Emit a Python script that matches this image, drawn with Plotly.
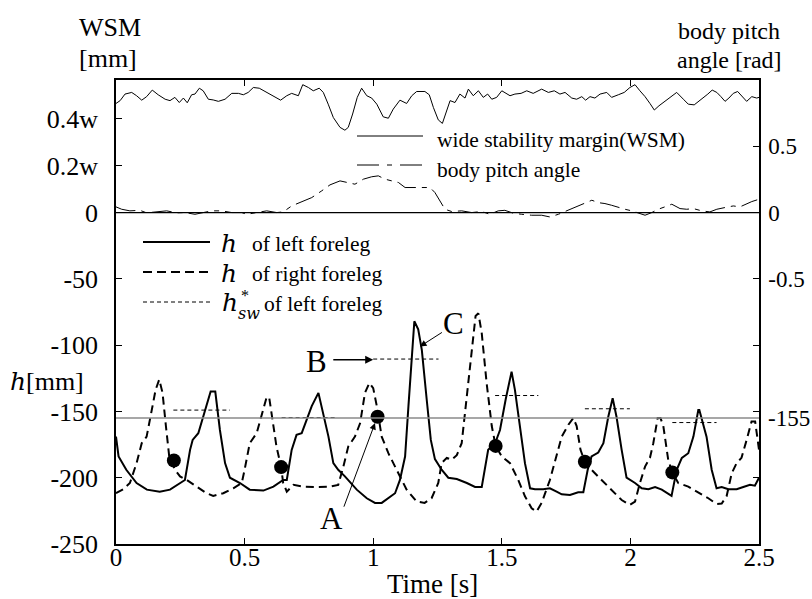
import plotly.graph_objects as go

# ---------------- data ----------------
left_t = [0, 0.01, 0.04, 0.08, 0.12, 0.17, 0.21, 0.25, 0.268, 0.288, 0.298, 0.32, 0.346, 0.368, 0.386,
          0.404, 0.424, 0.443, 0.482, 0.52, 0.573, 0.612, 0.65, 0.664, 0.683, 0.702, 0.722, 0.741, 0.761,
          0.787, 0.806, 0.826, 0.845, 0.864, 0.89, 0.936, 0.975, 1.007, 1.033, 1.059, 1.085, 1.104, 1.124,
          1.137, 1.15, 1.16, 1.175, 1.189, 1.208, 1.224, 1.24, 1.266, 1.292, 1.325, 1.364, 1.396, 1.422,
          1.447, 1.474, 1.493, 1.515, 1.538, 1.551, 1.571, 1.59, 1.61, 1.629, 1.661, 1.687, 1.713, 1.733,
          1.765, 1.797, 1.817, 1.834, 1.849, 1.875, 1.895, 1.914, 1.931, 1.946, 1.966, 1.985, 2.018, 2.044,
          2.07, 2.096, 2.122, 2.14, 2.16, 2.18, 2.2, 2.225, 2.245, 2.264, 2.268, 2.296, 2.316, 2.335, 2.355,
          2.381, 2.413, 2.439, 2.465, 2.484, 2.5]
left_h = [-169, -184, -194, -204, -209, -210.5, -209, -204, -201.7, -179, -171.5, -166.4, -148.8, -135, -135,
          -164, -189, -200, -204, -209, -209.7, -206.7, -201.7, -201.7, -179, -167.7, -166.4, -156, -146,
          -136, -151, -169, -189, -194, -199, -209, -215.5, -219, -219, -215.5, -211.7, -201.7, -184,
          -146, -108.5, -82, -88, -103.5, -141, -171.5, -186, -194, -200, -201, -204, -207, -207,
          -179, -174, -164, -141, -120, -133.7, -161, -189, -208, -208.7, -208.7, -208, -210.5, -212.5,
          -213, -211, -211, -194, -184, -181, -174, -154, -140, -154, -179, -200, -204, -208,
          -208.7, -207, -209, -211, -213.7, -194, -185, -181.5, -169, -149, -149, -169, -194, -208, -207,
          -208.7, -208.7, -207, -205.4, -206, -200]

right_t = [0, 0.028, 0.054, 0.08, 0.1, 0.119, 0.139, 0.154, 0.168, 0.181, 0.194, 0.207, 0.229, 0.249, 0.275,
           0.314, 0.352, 0.378, 0.417, 0.456, 0.489, 0.5, 0.52, 0.547, 0.566, 0.586, 0.596, 0.612, 0.624,
           0.642, 0.65, 0.664, 0.69, 0.728, 0.78, 0.832, 0.864, 0.884, 0.903, 0.929, 0.949, 0.968, 0.985,
           1.0, 1.014, 1.033, 1.059, 1.091, 1.13, 1.169, 1.2, 1.227, 1.253, 1.266, 1.286, 1.305, 1.325,
           1.344, 1.363, 1.383, 1.398, 1.409, 1.422, 1.441, 1.461, 1.476, 1.5, 1.532, 1.564, 1.59, 1.616,
           1.635, 1.655, 1.687, 1.713, 1.733, 1.759, 1.778, 1.791, 1.806, 1.823, 1.849, 1.888, 1.927,
           1.966, 1.998, 2.018, 2.037, 2.057, 2.076, 2.089, 2.106, 2.117, 2.128, 2.147, 2.163, 2.186,
           2.225, 2.264, 2.303, 2.335, 2.355, 2.374, 2.394, 2.413, 2.432, 2.452, 2.471, 2.485, 2.5]
right_h = [-211.7, -208.7, -204, -189, -174, -169, -149, -133.7, -126, -136, -161, -184, -194, -199, -201.7,
           -206.7, -211.7, -213.7, -211.7, -208, -204, -194, -174, -166.4, -154, -139, -140, -161, -176.5,
           -192, -204, -210.5, -205.4, -206.7, -207, -206.7, -205.4, -191.6, -176.5, -169, -159, -136, -128.6,
           -132.4, -146, -169, -181.5, -194, -209, -218, -219, -215.5, -204, -189, -185, -186.5, -183,
           -174, -141, -103.5, -78, -76, -91, -128.6, -161, -176, -184, -189, -201.7, -214, -223,
           -225.6, -219, -201.7, -184, -169, -160, -155, -161, -179, -188, -194, -201.7, -209,
           -216.8, -220.5, -218, -204, -191.6, -185, -174, -155, -155, -161, -186.5, -196, -204,
           -206.7, -211, -215.5, -219.8, -219.5, -214, -196.6, -189, -185, -171.5, -157.6, -157.6, -179]

# touchdown points
dot_t = [0.225, 0.642, 1.017, 1.476, 1.823, 2.163]
dot_h = [-187, -192, -154, -176, -188, -196]

# h*_sw of left foreleg: (start time, end time, value)
hsw_t0 = [0.223, 0.644, 1.0, 1.474, 1.823, 2.163]
hsw_t1 = [0.443, 0.851, 1.254, 1.642, 1.998, 2.335]
hsw_h = [-149, -154.6, -110.5, -138, -148, -158.4]

# wide stability margin (fraction of w)
wsm_t = [0, 0.016, 0.035, 0.061, 0.08, 0.1, 0.119, 0.141, 0.164, 0.191, 0.21, 0.229, 0.246, 0.262, 0.277,
         0.294, 0.307, 0.324, 0.339, 0.359, 0.378, 0.398, 0.424, 0.45, 0.476, 0.495, 0.514, 0.534, 0.557,
         0.579, 0.612, 0.64, 0.664, 0.683, 0.709, 0.726, 0.748, 0.767, 0.79, 0.806, 0.825, 0.845, 0.871,
         0.89, 0.903, 0.92, 0.938, 0.955, 0.975, 0.994, 1.014, 1.039, 1.059, 1.078, 1.104, 1.13, 1.15,
         1.169, 1.201, 1.218, 1.234, 1.253, 1.269, 1.286, 1.299, 1.318, 1.337, 1.357, 1.37, 1.389, 1.409,
         1.428, 1.445, 1.461, 1.48, 1.5, 1.512, 1.532, 1.551, 1.575, 1.597, 1.622, 1.655, 1.681, 1.704,
         1.726, 1.746, 1.772, 1.791, 1.811, 1.826, 1.843, 1.862, 1.882, 1.908, 1.927, 1.953, 1.976, 1.998,
         2.018, 2.037, 2.057, 2.076, 2.093, 2.111, 2.134, 2.161, 2.18, 2.206, 2.225, 2.248, 2.277, 2.301,
         2.318, 2.336, 2.352, 2.368, 2.383, 2.4, 2.417, 2.433, 2.452, 2.472, 2.491, 2.5]
wsm_w = [0.465, 0.477, 0.505, 0.512, 0.498, 0.479, 0.494, 0.522, 0.502, 0.483, 0.477, 0.491, 0.469, 0.488, 0.468,
         0.502, 0.505, 0.53, 0.519, 0.483, 0.48, 0.474, 0.483, 0.508, 0.508, 0.502, 0.512, 0.533, 0.53,
         0.516, 0.494, 0.479, 0.498, 0.508, 0.498, 0.545, 0.533, 0.519, 0.53, 0.512, 0.462, 0.405, 0.363,
         0.351, 0.363, 0.42, 0.491, 0.53, 0.498, 0.488, 0.462, 0.408, 0.402, 0.441, 0.479, 0.465, 0.498,
         0.516, 0.516, 0.502, 0.448, 0.395, 0.38, 0.434, 0.477, 0.469, 0.505, 0.488, 0.526, 0.498, 0.519,
         0.491, 0.505, 0.483, 0.491, 0.519, 0.512, 0.498, 0.505, 0.508, 0.519, 0.508, 0.526, 0.512, 0.519,
         0.505, 0.512, 0.488, 0.483, 0.494, 0.479, 0.494, 0.488, 0.505, 0.512, 0.491, 0.502, 0.512, 0.533,
         0.545, 0.519, 0.494, 0.465, 0.437, 0.455, 0.474, 0.498, 0.512, 0.483, 0.462, 0.459, 0.483, 0.505,
         0.522, 0.512, 0.494, 0.474, 0.488, 0.508, 0.516, 0.498, 0.474, 0.494, 0.488, 0.491]

# body pitch angle [rad]
pitch_t = [0, 0.022, 0.054, 0.093, 0.119, 0.158, 0.197, 0.236, 0.268, 0.307, 0.339, 0.372, 0.411, 0.45, 0.489,
           0.508, 0.547, 0.586, 0.625, 0.65, 0.683, 0.722, 0.761, 0.8, 0.832, 0.871, 0.903, 0.929, 0.962,
           0.994, 1.02, 1.046, 1.072, 1.098, 1.124, 1.156, 1.189, 1.221, 1.24, 1.26, 1.279, 1.305, 1.344,
           1.383, 1.422, 1.454, 1.486, 1.512, 1.545, 1.577, 1.616, 1.655, 1.687, 1.72, 1.752, 1.785, 1.823,
           1.85, 1.875, 1.901, 1.927, 1.953, 1.979, 2.005, 2.031, 2.057, 2.083, 2.108, 2.134, 2.161, 2.193,
           2.219, 2.245, 2.277, 2.309, 2.336, 2.368, 2.4, 2.426, 2.452, 2.472, 2.493]
pitch_rad = [0.043, 0.025, 0.013, 0.017, -0.002, 0.005, 0.013, -0.002, 0.0, -0.013, 0.0, 0.013, 0.013, 0.0, 0.0,
             -0.013, 0.0, 0.013, 0.0, 0.005, 0.05, 0.083, 0.113, 0.164, 0.209, 0.239, 0.227, 0.214, 0.252,
             0.27, 0.277, 0.252, 0.239, 0.227, 0.189, 0.189, 0.194, 0.189, 0.151, 0.083, 0.025, 0.008, 0.013,
             0.0, 0.008, -0.013, 0.013, 0.017, -0.005, -0.013, -0.02, -0.02, -0.033, -0.013, 0.013, 0.038, 0.075,
             0.093, 0.075, 0.068, 0.055, 0.038, 0.025, 0.013, -0.005, -0.02, 0.0, 0.025, 0.043, 0.063, 0.03,
             0.025, 0.03, 0.013, 0.005, 0.025, 0.038, 0.05, 0.043, 0.068, 0.083, 0.096]

x_ticks = [0, 0.5, 1, 1.5, 2, 2.5]
x_ticktext = ["0", "0.5", "1", "1.5", "2", "2.5"]
W_SCALE = 177.0   # axis units per w for WSM panel
h_ticks = [-250, -200, -150, -100, -50, 0]
wsm_ticks = [0.2, 0.4]
wsm_ticktext = ["0.2w", "0.4w"]
pitch_ticks = [-2.5, -2.0, -1.5, -1.0, -0.5, 0, 0.5]
pitch_ticktext = ["", "", "", "", "-0.5", "0", "0.5"]
h_ref = -155

FONT = "Liberation Serif"
IFONT = "DejaVu Serif"

# ---------------- figure ----------------
fig = go.Figure()

fig.add_trace(go.Scatter(x=wsm_t, y=[v * W_SCALE for v in wsm_w], mode="lines",
                         line=dict(color="black", width=1), name="wide stability margin(WSM)",
                         showlegend=False))
fig.add_trace(go.Scatter(x=pitch_t, y=pitch_rad, yaxis="y2", mode="lines",
                         line=dict(color="black", width=1, dash="20px,6px,5px,6px"),
                         name="body pitch angle", showlegend=False))

hx, hy = [], []
for a, b, v in zip(hsw_t0, hsw_t1, hsw_h):
    hx += [a, b, None]
    hy += [v, v, None]
fig.add_trace(go.Scatter(x=hx, y=hy, mode="lines", line=dict(color="black", width=1, dash="4px,3px"),
                         name="h*sw of left foreleg", showlegend=False))
fig.add_trace(go.Scatter(x=right_t, y=right_h, mode="lines",
                         line=dict(color="black", width=2, dash="8px,5px"),
                         name="h of right foreleg", showlegend=False))
fig.add_trace(go.Scatter(x=left_t, y=left_h, mode="lines", line=dict(color="black", width=2),
                         name="h of left foreleg", showlegend=False))
fig.add_trace(go.Scatter(x=dot_t, y=dot_h, mode="markers", marker=dict(color="black", size=14),
                         showlegend=False))

# plot area in pixels
L, R, T, B = 116, 759, 80, 544


def px(x):
    return (x - L) / (R - L)


def py(y):
    return (B - y) / (B - T)


shapes = [
    dict(type="line", xref="paper", yref="y", x0=0, x1=1, y0=0, y1=0, line=dict(color="black", width=1.2)),
    dict(type="line", xref="paper", yref="y", x0=0, x1=1, y0=h_ref, y1=h_ref, line=dict(color="#8a8a8a", width=1.6)),
    # upper legend samples
    dict(type="line", xref="paper", yref="paper", x0=px(357), x1=px(423), y0=py(136), y1=py(136),
         line=dict(color="black", width=1)),
    dict(type="line", xref="paper", yref="paper", x0=px(357), x1=px(423), y0=py(165), y1=py(165),
         line=dict(color="black", width=1, dash="22px,8px,5px,8px")),
    # lower legend samples
    dict(type="line", xref="paper", yref="paper", x0=px(143), x1=px(210), y0=py(242), y1=py(242),
         line=dict(color="black", width=2)),
    dict(type="line", xref="paper", yref="paper", x0=px(143), x1=px(210), y0=py(272), y1=py(272),
         line=dict(color="black", width=2, dash="9px,5px")),
    dict(type="line", xref="paper", yref="paper", x0=px(143), x1=px(210), y0=py(302), y1=py(302),
         line=dict(color="black", width=1, dash="4px,3px")),
]


def txt(x, y, s, size, xanchor="left", yanchor="middle", family=FONT, style="normal"):
    return dict(x=px(x), y=py(y), xref="paper", yref="paper", text=s, showarrow=False,
                xanchor=xanchor, yanchor=yanchor, borderpad=0,
                font=dict(family=family, size=size, color="black", style=style))


annotations = [
    txt(110, 27, "WSM", 26, "center"),
    txt(108, 59, "[mm]", 26, "center"),
    txt(729, 31, "body pitch", 24, "center"),
    txt(729, 60, "angle [rad]", 24, "center"),
    txt(432, 584, "Time [s]", 27, "center"),
    txt(18, 381, "h", 25, "center", family=IFONT, style="italic"),
    txt(55, 381, "[mm]", 26, "center"),
    txt(767, 418, "-155", 23, "left"),
    # upper legend
    txt(436, 140, "wide stability margin(WSM)", 21.5),
    txt(436, 170, "body pitch angle", 21.5),
    # lower legend
    txt(220, 243, "h", 25, family=IFONT, style="italic"),
    txt(251, 244, "of left foreleg", 21.5),
    txt(220, 273, "h", 25, family=IFONT, style="italic"),
    txt(251, 274, "of right foreleg", 21.5),
    txt(221, 302, "h", 25, family=IFONT, style="italic"),
    txt(240, 295, "*", 16),
    txt(237, 313, "sw", 16, family=IFONT, style="italic"),
    txt(263, 304, "of left foreleg", 21.5),
    # A, B, C labels
    dict(x=0.839, y=-230.6, xref="x", yref="y", text="A", showarrow=False,
         font=dict(family=FONT, size=31, color="black")),
    dict(x=0.78, y=-112.3, xref="x", yref="y", text="B", showarrow=False,
         font=dict(family=FONT, size=31, color="black")),
    dict(x=1.311, y=-83.3, xref="x", yref="y", text="C", showarrow=False,
         font=dict(family=FONT, size=31, color="black")),
    # arrows
    dict(x=1.007, y=-158.8, ax=0.884, ay=-223, xref="x", yref="y", axref="x", ayref="y", text="",
         showarrow=True, arrowhead=2, arrowsize=1.3, arrowwidth=1, arrowcolor="black", standoff=0),
    dict(x=1.0, y=-111, ax=0.839, ay=-111, xref="x", yref="y", axref="x", ayref="y", text="",
         showarrow=True, arrowhead=2, arrowsize=1.0, arrowwidth=1.6, arrowcolor="black", standoff=0),
    dict(x=1.182, y=-101, ax=1.273, ay=-89.7, xref="x", yref="y", axref="x", ayref="y", text="",
         showarrow=True, arrowhead=2, arrowsize=1.3, arrowwidth=1, arrowcolor="black", standoff=0),
]

fig.update_layout(
    width=812, height=599,
    margin=dict(l=L, r=812 - R, t=T, b=599 - B, autoexpand=False),
    paper_bgcolor="white", plot_bgcolor="white",
    font=dict(family=FONT, size=24, color="black"),
    showlegend=False,
    shapes=shapes,
    annotations=annotations,
    xaxis=dict(range=[0, 2.5], tickvals=x_ticks, ticktext=x_ticktext, ticks="inside", ticklen=6,
               tickcolor="black", showline=True, linecolor="black", linewidth=1.5, mirror="ticks",
               showgrid=False, zeroline=False, tickfont=dict(size=25), ticklabelstandoff=-10),
    yaxis=dict(range=[-250, 100],
               tickvals=h_ticks + [v * W_SCALE for v in wsm_ticks],
               ticktext=[str(v) for v in h_ticks] + wsm_ticktext,
               ticks="inside", ticklen=6, tickcolor="black", showline=True, linecolor="black",
               linewidth=1.5, mirror=True, showgrid=False, zeroline=False, tickfont=dict(size=26),
               ticklabelstandoff=11),
    yaxis2=dict(range=[-2.5, 1.0], overlaying="y", side="right", tickvals=pitch_ticks,
                ticktext=pitch_ticktext, ticks="inside", ticklen=6, tickcolor="black",
                showline=True, linecolor="black", linewidth=1.5, showgrid=False, zeroline=False,
                tickfont=dict(size=23), ticklabelstandoff=3),
)

fig.write_html("out.html", config={"displayModeBar": False},
               post_script="document.body.style.margin='0';document.body.style.padding='0';")
